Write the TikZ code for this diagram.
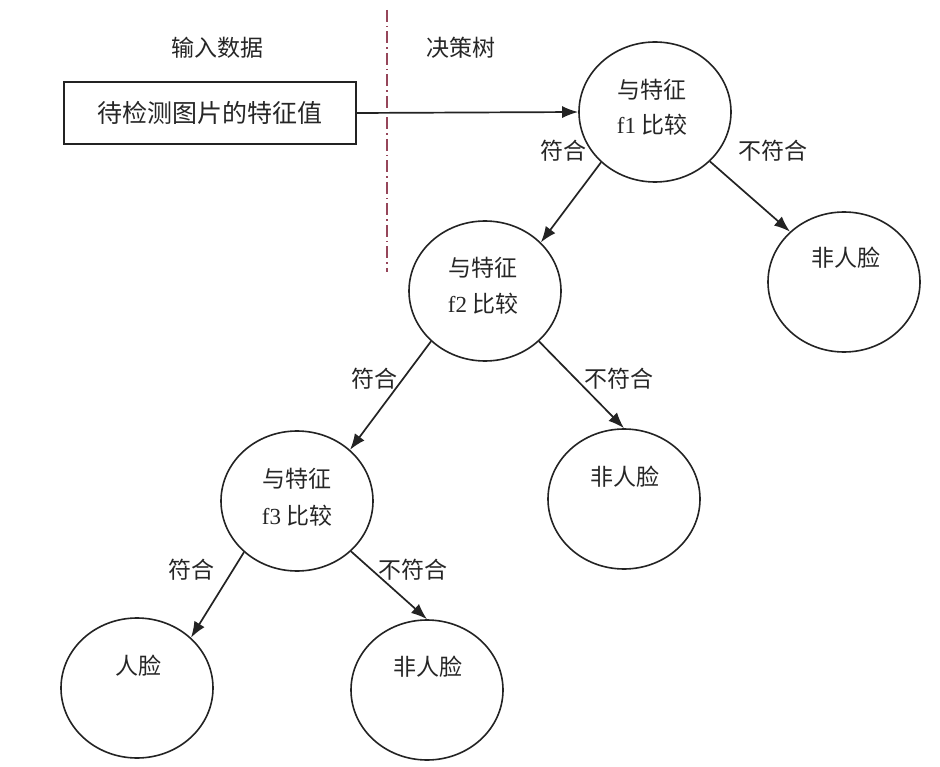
\documentclass[tikz,border=0pt]{standalone}
\usepackage{fontspec}
\setmainfont{Liberation Serif}
\newfontfamily\cjk{Noto Sans CJK SC}
\usetikzlibrary{arrows.meta,shapes.geometric}
\definecolor{linec}{RGB}{35,35,35}
\definecolor{divc}{RGB}{150,70,90}
\begin{document}
\begin{tikzpicture}[x=1pt,y=-1pt,
  every node/.style={font=\fontsize{23}{27}\selectfont\cjk, text=black!85},
  bignode/.style={draw=linec, line width=1.6pt, ellipse, minimum width=152pt, minimum height=140pt, inner sep=0pt},
  edge/.style={draw=linec, line width=1.7pt, -{Latex[length=16pt,width=12pt]}},
  lbl/.style={inner sep=0pt}]
\useasboundingbox (0,0) rectangle (940,767);
\fill[white] (0,0) rectangle (940,767);
\node[bignode] (c1) at (655,112) {};
\node[bignode] (c1r) at (844,282) {};
\node[bignode] (c2) at (485,291) {};
\node[bignode] (c2r) at (624,499) {};
\node[bignode] (c3) at (297,501) {};
\node[bignode] (c3l) at (137,688) {};
\node[bignode] (c3r) at (427,690) {};
% texts inside
\node[lbl] (t1a) at (652,90) {与特征};
\node[lbl] (t1b) at (652,125) {{\rmfamily f1} 比较};
\node[lbl] (t1r) at (846,258) {非人脸};
\node[lbl] (t2a) at (483,268) {与特征};
\node[lbl] (t2b) at (483,304) {{\rmfamily f2} 比较};
\node[lbl] (t2r) at (625,477) {非人脸};
\node[lbl] (t3a) at (297,479) {与特征};
\node[lbl] (t3b) at (297,516) {{\rmfamily f3} 比较};
\node[lbl] (t3l) at (138,666) {人脸};
\node[lbl] (t3r) at (428,667) {非人脸};
% rectangle
\node[draw=linec, line width=1.6pt, minimum width=292pt, minimum height=62pt, inner sep=0pt,
      font=\fontsize{25}{29}\selectfont\cjk] (box) at (210,113) {待检测图片的特征值};
% headers
\node[lbl] (h1) at (217,48) {输入数据};
\node[lbl] (h2) at (461,48) {决策树};
% divider
\coordinate (dtop) at (387,10);
\coordinate (dbot) at (387,272);
\draw[divc, line width=1.3pt, dash pattern=on 12pt off 4pt on 1.5pt off 4pt] (dtop) -- (dbot);
% edges
\draw[edge] (box.east) -- (c1.west);
\draw[edge] (c1.223) -- (c2.41);
\draw[edge] (c1.-42) -- (c1r.137);
\draw[edge] (c2.223) -- (c3.44);
\draw[edge] (c2.-43) -- (c2r.north);
\draw[edge] (c3.224) -- (c3l.43);
\draw[edge] (c3.-43) -- (c3r.north);
% edge labels
\node[lbl] (l1a) at (563,151) {符合};
\node[lbl] (l1b) at (773,151) {不符合};
\node[lbl] (l2a) at (374,379) {符合};
\node[lbl] (l2b) at (619,379) {不符合};
\node[lbl] (l3a) at (191,570) {符合};
\node[lbl] (l3b) at (413,570) {不符合};
\end{tikzpicture}
\end{document}
